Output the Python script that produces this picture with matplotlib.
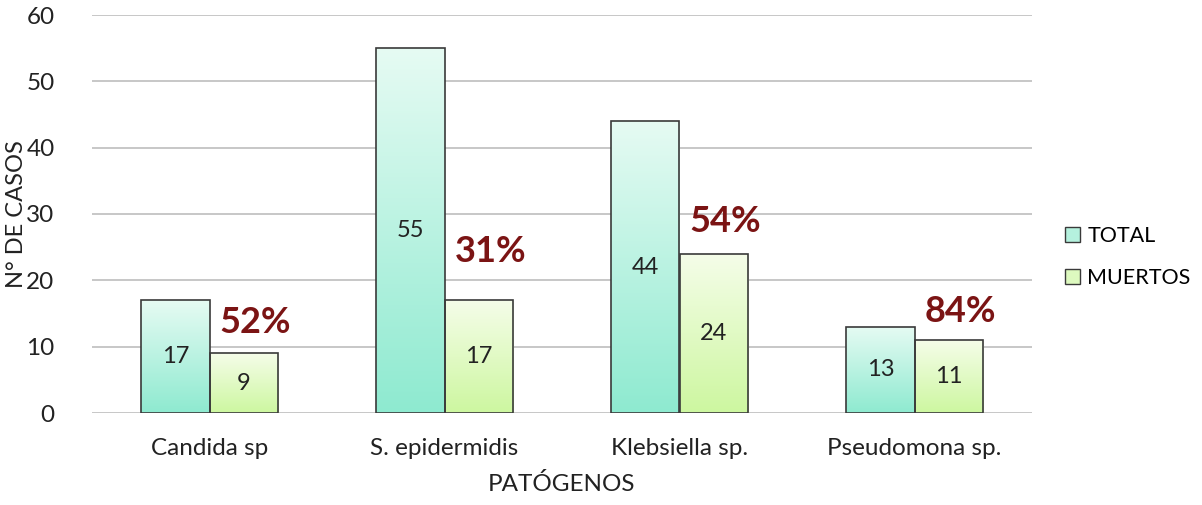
import numpy as np
import matplotlib
matplotlib.use("Agg")
import matplotlib.pyplot as plt
from matplotlib.colors import LinearSegmentedColormap
from matplotlib.patches import Patch

categories = ["Candida sp", "S. epidermidis", "Klebsiella sp.", "Pseudomona sp."]
total = [17, 55, 44, 13]
muertos = [9, 17, 24, 11]
percent_labels = ["52%", "31%", "54%", "84%"]
pct_offsets = [4.6, 7.3, 4.8, 4.3]
series_names = ["TOTAL", "MUERTOS"]

plt.rcParams['font.family'] = ['Lato', 'DejaVu Sans']

fig = plt.figure(figsize=(12.02, 5.05), dpi=100)
ax = fig.add_axes([92/1202, 1 - 413/505, 940/1202, (413-15)/505])

x = np.arange(len(categories))
w = 0.29

teal_cmap = LinearSegmentedColormap.from_list("teal", ["#8eead0", "#e6fbf3"])
green_cmap = LinearSegmentedColormap.from_list("green", ["#cdf7a0", "#f5fde9"])

def grad_bars(xs, vals, cmap, label):
    bars = ax.bar(xs, vals, w, facecolor="none", edgecolor="#3a3a3a", linewidth=1.2, zorder=3, label=label)
    grad = np.linspace(0, 1, 256).reshape(-1, 1)
    for b in bars:
        bx, bw, bh = b.get_x(), b.get_width(), b.get_height()
        im = ax.imshow(grad, cmap=cmap, origin="lower", aspect="auto",
                       extent=[bx, bx + bw, 0, bh], zorder=2)
        im.set_clip_path(b)
    return bars

b1 = grad_bars(x - w/2, total, teal_cmap, series_names[0])
b2 = grad_bars(x + w/2, muertos, green_cmap, series_names[1])

for bars, vals in ((b1, total), (b2, muertos)):
    for b, v in zip(bars, vals):
        ax.text(b.get_x() + b.get_width()/2, v/2, str(v), ha="center", va="center",
                fontsize=17, color="#222222", zorder=4)

for i, (lab, v, off) in enumerate(zip(percent_labels, muertos, pct_offsets)):
    ax.text(x[i] + w/2 + 0.05, v + off, lab, ha="center", va="center",
            fontsize=26, fontweight="bold", color="#7b1414", zorder=4)

ax.set_xlim(-0.5, len(categories) - 0.5)
ax.set_ylim(0, 60)
ax.set_yticks(range(0, 61, 10))
ax.set_xticks(x)
ax.set_xticklabels(categories)
ax.tick_params(axis="both", length=0, labelsize=17.5, colors="#222222")
ax.tick_params(axis="y", pad=27)
ax.tick_params(axis="x", pad=18)
ax.yaxis.grid(True, color="#bdbdbd", linewidth=1.2, zorder=0)
ax.set_axisbelow(True)
for s in ax.spines.values():
    s.set_visible(False)

ax.set_ylabel("N° DE CASOS", fontsize=17, color="#222222", va="center")
ax.yaxis.set_label_coords(-0.08, 0.5)
ax.set_xlabel("PATÓGENOS", fontsize=17.5, color="#222222", labelpad=10)

handles = [Patch(facecolor="#b5f1de", edgecolor="#3a3a3a", linewidth=1.0),
           Patch(facecolor="#ddf9bf", edgecolor="#3a3a3a", linewidth=1.0)]
fig.legend(handles, series_names, loc="center left", bbox_to_anchor=(1056/1202, 1 - 257/505),
           frameon=False, fontsize=15.5, handlelength=0.7, handleheight=0.7,
           handletextpad=0.35, labelspacing=1.0, borderaxespad=0)

fig.savefig("out.png", dpi=100)
